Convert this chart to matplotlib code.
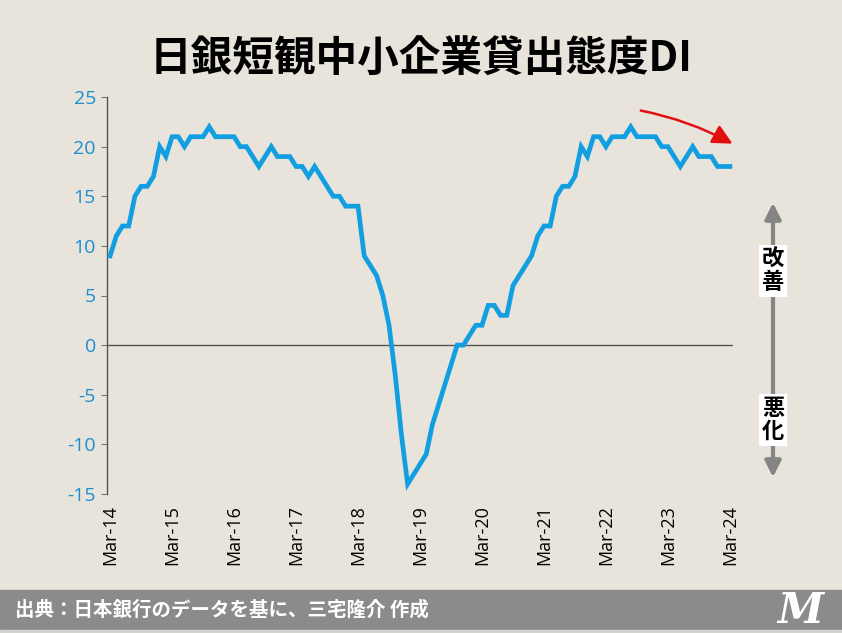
import numpy as np
import matplotlib
matplotlib.use("Agg")
import matplotlib.pyplot as plt
from matplotlib.patches import Rectangle, FancyArrowPatch

plt.rcParams['font.family'] = ['Noto Sans CJK JP', 'DejaVu Sans']

# DI values, evenly spaced, Mar-14 .. Mar-24
di = [9, 11, 12, 12, 15, 16, 16, 17, 20, 19,
      21, 21, 20, 21, 21, 21, 22, 21, 21, 21,
      21, 20, 20, 19, 18, 19, 20, 19, 19, 19,
      18, 18, 17, 18, 17, 16, 15, 15, 14, 14,
      14, 9, 8, 7, 5, 2, -3, -9, -14, -13,
      -12, -11, -8, -6, -4, -2, 0, 0, 1, 2,
      2, 4, 4, 3, 3, 6, 7, 8, 9, 11,
      12, 12, 15, 16, 16, 17, 20, 19, 21, 21,
      20, 21, 21, 21, 22, 21, 21, 21, 21, 20,
      20, 19, 18, 19, 20, 19, 19, 19, 18, 18,
      18]
xlabels = ["Mar-14", "Mar-15", "Mar-16", "Mar-17", "Mar-18", "Mar-19",
           "Mar-20", "Mar-21", "Mar-22", "Mar-23", "Mar-24"]
yticks = [-15, -10, -5, 0, 5, 10, 15, 20, 25]

title = "日銀短観中小企業貸出態度DI"
source = "出典：日本銀行のデータを基に、三宅隆介 作成"

bg = "#e8e4dc"
blue = "#119fe2"
W, H = 842, 633

def fx(px):
    return px / W

def fy(py):
    return 1 - py / H

fig = plt.figure(figsize=(W / 100, H / 100), dpi=100, facecolor=bg)
ax = fig.add_axes([fx(107), fy(494), fx(733) - fx(107), fy(97) - fy(494)])
ax.set_facecolor(bg)

x = np.arange(len(di))
ax.plot(x, di, color=blue, lw=3.4, solid_joinstyle='miter', zorder=3)
ax.axhline(0, color="#555555", lw=1, zorder=2)

ax.set_xlim(-0.5, 100.5)
ax.set_ylim(-15, 25)
ax.set_yticks(yticks)
ax.set_yticklabels([str(v) for v in yticks], color="#1a8fd2", fontsize=14,
                   family=['Open Sans', 'DejaVu Sans'])
ax.set_xticks(np.arange(0, 101, 10))
ax.set_xticklabels(xlabels, rotation=90, fontsize=13, color="black",
                   family=['Open Sans', 'DejaVu Sans'])
ax.tick_params(axis='x', length=0, pad=8)
ax.tick_params(axis='y', length=4, color="#777777", pad=4)
for s in ['top', 'right', 'bottom']:
    ax.spines[s].set_visible(False)
ax.spines['left'].set_color("#555555")
ax.spines['left'].set_linewidth(1)

# title
fig.text(0.5, fy(60), title, ha='center', va='center', fontsize=30,
         fontweight='bold', color='black')

# footer band
fig.patches.append(Rectangle((0, fy(630)), 1, fy(590) - fy(630),
                             transform=fig.transFigure, color="#8b8b8b", zorder=0))
fig.patches.append(Rectangle((0, 0), 1, fy(630),
                             transform=fig.transFigure, color="#d4d2ce", zorder=0))
fig.text(fx(15), fy(610), source, ha='left', va='center', fontsize=14,
         fontweight='bold', color='white')
fig.text(fx(800), fy(611), "M", ha='center', va='center', fontsize=30,
         fontweight='bold', style='italic', color='white', family='DejaVu Serif')

# right side improvement / deterioration arrows
arr = FancyArrowPatch((fx(773), fy(480)), (fx(773), fy(200)),
                      transform=fig.transFigure, arrowstyle='<|-|>',
                      mutation_scale=24, color="#858585", lw=3)
fig.patches.append(arr)
box = dict(boxstyle='square,pad=0.15', fc='white', ec='none')
fig.text(fx(773), fy(271), "改\n善", ha='center', va='center', fontsize=16,
         fontweight='bold', linespacing=1.0, bbox=box)
fig.text(fx(773), fy(420), "悪\n化", ha='center', va='center', fontsize=16,
         fontweight='bold', linespacing=1.0, bbox=box)

# red trend arrow
red = FancyArrowPatch((fx(638), fy(110)), (fx(735), fy(145)),
                      transform=fig.transFigure, arrowstyle='-|>',
                      connectionstyle='arc3,rad=-0.08',
                      mutation_scale=30, color="#e01010", lw=1.8)
fig.patches.append(red)

fig.savefig("out.png", dpi=100, facecolor=bg)
